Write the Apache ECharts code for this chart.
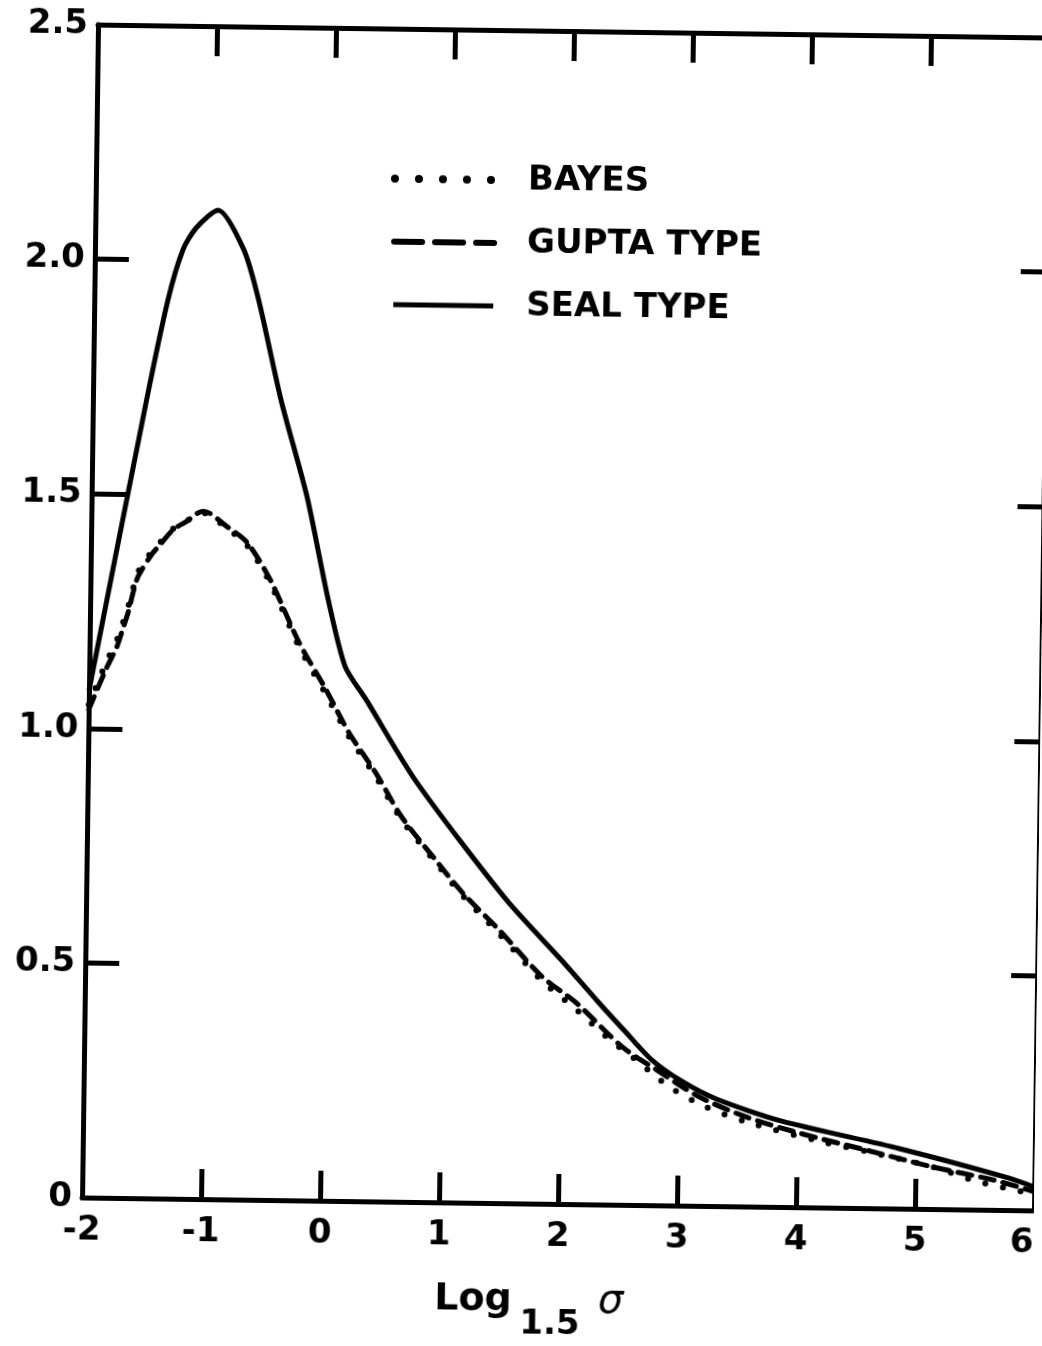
<!DOCTYPE html>
<html><head><meta charset="utf-8">
<script src="https://cdn.jsdelivr.net/npm/echarts@6/dist/echarts.min.js"></script>
<style>
html,body{margin:0;padding:0;background:#fff;overflow:hidden;}
#chart{width:1042px;height:1346px;transform:rotate(0.78deg);transform-origin:566px 617.5px;}
</style></head><body>
<div id="chart"></div>
<script>
const xTickLabels = ['-2','-1','0','1','2','3','4','5','6'];
const yTickLabels = ['0','0.5','1.0','1.5','2.0','2.5'];
const seriesNames = ['BAYES','GUPTA TYPE','SEAL TYPE'];

const bayesX = [-2, -1.86, -1.77, -1.73, -1.68, -1.64, -1.6, -1.49, -1.43, -1.31, -1.21, -1.06, -0.86, -0.69, -0.49, -0.24, -0.01, 0.19, 0.42, 0.64, 0.93, 1.16, 1.47, 1.84, 2.13, 2.4, 2.64, 2.92, 3.23, 3.58, 4.21, 4.6, 5.14, 5.52, 6];
const bayesY = [1.05, 1.14, 1.19, 1.22, 1.26, 1.30, 1.335, 1.378, 1.395, 1.428, 1.443, 1.462, 1.43, 1.395, 1.315, 1.18, 1.08, 0.99, 0.905, 0.815, 0.725, 0.655, 0.575, 0.475, 0.415, 0.355, 0.309, 0.253, 0.211, 0.18, 0.14, 0.12, 0.09, 0.06, 0.035];

const guptaX = [-2, -1.86, -1.77, -1.73, -1.68, -1.64, -1.6, -1.49, -1.43, -1.31, -1.21, -1.06, -0.86, -0.69, -0.49, -0.24, -0.01, 0.19, 0.42, 0.64, 0.93, 1.16, 1.47, 1.84, 2.13, 2.52, 2.81, 3.17, 3.57, 4.02, 4.58, 5.14, 5.65, 6];
const guptaY = [1.04, 1.126, 1.175, 1.207, 1.248, 1.291, 1.325, 1.372, 1.39, 1.426, 1.442, 1.466, 1.434, 1.401, 1.322, 1.189, 1.09, 0.998, 0.913, 0.821, 0.73, 0.661, 0.583, 0.484, 0.429, 0.337, 0.289, 0.233, 0.191, 0.158, 0.124, 0.09, 0.064, 0.04];

const sealX = [-2, -1.55, -1.38, -1.26, -1.15, -0.97, -0.75, -0.62, -0.42, -0.19, 0.0, 0.15, 0.33, 0.76, 1.53, 2.0, 2.32, 2.55, 2.77, 3.02, 3.32, 3.87, 4.86, 5.79, 6];
const sealY = [1.08, 1.70, 1.916, 2.023, 2.07, 2.108, 2.025, 1.919, 1.706, 1.5, 1.281, 1.139, 1.069, 0.896, 0.647, 0.52, 0.43, 0.368, 0.31, 0.266, 0.228, 0.183, 0.128, 0.068, 0.05];

const zip = (xs, ys) => xs.map((x, i) => [x, ys[i]]);
const FONT = 'DejaVu Sans';

const chart = echarts.init(document.getElementById('chart'), null, {renderer: 'canvas'});

const axisCommon = {
  type: 'value',
  splitLine: {show: false},
  axisLine: {show: true, onZero: false, lineStyle: {color: '#000', width: 5}},
  axisTick: {show: true, inside: true, length: 30, lineStyle: {color: '#000', width: 5}},
};

chart.setOption({
  animation: false,
  backgroundColor: '#fff',
  grid: {left: 90, right: 0, top: 31, bottom: 142, containLabel: false, outerBoundsMode: 'none'},
  legend: {
    orient: 'vertical',
    left: 380, top: 159,
    itemWidth: 100, itemHeight: 40, itemGap: 29,
    itemStyle: {opacity: 0},
    textStyle: {fontFamily: FONT, fontWeight: 'bold', fontSize: 34, color: '#000', padding: [0, 0, 0, 28]},
    data: [
      {name: seriesNames[0], itemStyle: {opacity: 0}, lineStyle: {width: 8, type: [0, 24], cap: 'round'}},
      {name: seriesNames[1], itemStyle: {opacity: 0}, lineStyle: {width: 6, type: [28, 13], cap: 'round'}},
      {name: seriesNames[2], itemStyle: {opacity: 0}, lineStyle: {width: 5, type: 'solid'}}
    ]
  },
  xAxis: [
    Object.assign({}, axisCommon, {
      position: 'bottom', min: -2, max: 6, interval: 1,
      axisLabel: {show: true, margin: 16, fontFamily: FONT, fontWeight: 'bold', fontSize: 34, color: '#000',
        alignMaxLabel: 'right',
        formatter: v => xTickLabels[Math.round(v + 2)]},
      name: '{a|Log}{b|1.5}{c|σ}',
      nameLocation: 'middle', nameGap: 78,
      nameTextStyle: {
        padding: [0, 56, 0, 0],
        rich: {
          a: {fontFamily: FONT, fontWeight: 'bold', fontSize: 38, color: '#000', verticalAlign: 'top'},
          b: {fontFamily: FONT, fontWeight: 'bold', fontSize: 34, color: '#000', padding: [26, 0, 0, 8]},
          c: {fontFamily: FONT, fontStyle: 'italic', fontSize: 40, color: '#000', verticalAlign: 'top', padding: [0, 0, 0, 18]}
        }
      }
    }),
    Object.assign({}, axisCommon, {
      position: 'top', min: -2, max: 6, interval: 1,
      axisLabel: {show: false}
    })
  ],
  yAxis: [
    Object.assign({}, axisCommon, {
      position: 'left', min: 0, max: 2.5, interval: 0.5,
      axisTick: {show: true, inside: true, length: 34, lineStyle: {color: '#000', width: 5}},
      axisLabel: {show: true, margin: 10, fontFamily: FONT, fontWeight: 'bold', fontSize: 34, color: '#000',
        formatter: v => yTickLabels[Math.round(v / 0.5)]}
    }),
    Object.assign({}, axisCommon, {
      position: 'right', min: 0, max: 2.5, interval: 0.5,
      axisTick: {show: true, inside: true, length: 26, lineStyle: {color: '#000', width: 5}},
      axisLabel: {show: false}
    })
  ],
  series: [
    {name: seriesNames[0], type: 'line', data: zip(bayesX, bayesY), showSymbol: false, symbol: 'none', smooth: 0.3,
      lineStyle: {color: '#000', width: 6, type: [0, 18], cap: 'round'}, itemStyle: {color: '#000'}},
    {name: seriesNames[1], type: 'line', data: zip(guptaX, guptaY), showSymbol: false, symbol: 'none', smooth: 0.3,
      lineStyle: {color: '#000', width: 5, type: [14, 9], cap: 'round'}, itemStyle: {color: '#000'}},
    {name: seriesNames[2], type: 'line', data: zip(sealX, sealY), showSymbol: false, symbol: 'none', smooth: 0.25,
      lineStyle: {color: '#000', width: 5, type: 'solid'}, itemStyle: {color: '#000'}}
  ]
});
</script>
</body></html>
